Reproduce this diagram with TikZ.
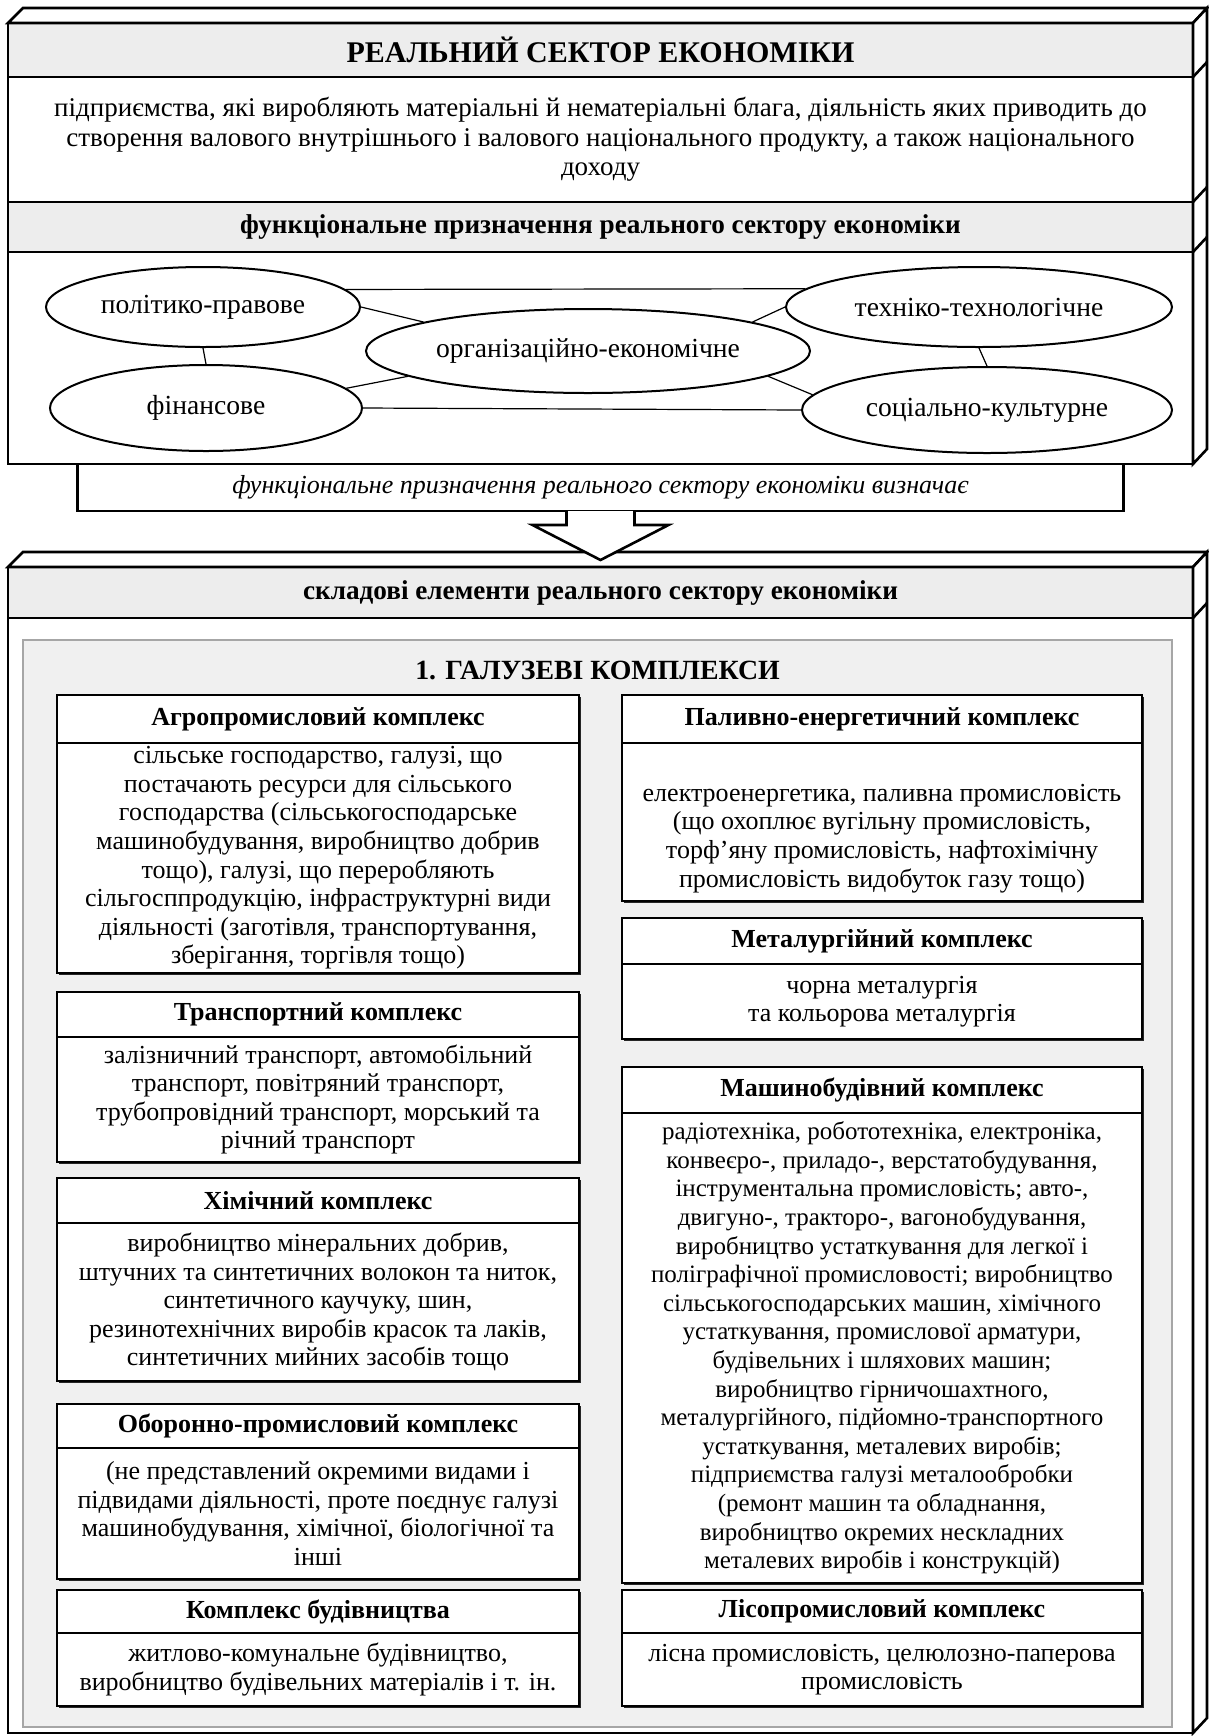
\documentclass[tikz,border=0pt]{standalone}
\usepackage{fontspec}
\setmainfont{Liberation Serif}
\usepackage{tikz}
\usetikzlibrary{positioning,shapes.geometric,shadows}

\begin{document}
\begin{tikzpicture}[x=0.5pt,y=-0.5pt,
    frameline/.style={line width=1.3pt,line join=miter},
    band/.style={draw,frameline,minimum width=592.5pt,inner sep=0pt,outer sep=0pt,align=center,
      font=\fontsize{13.5}{14.7}\selectfont},
    bandhead/.style={band,fill=black!7,font=\bfseries\fontsize{13.6}{14.7}\selectfont},
    fnell/.style={draw,ellipse,line width=1pt,fill=white,inner sep=0pt,font=\fontsize{13.8}{14.3}\selectfont},
    fnlink/.style={line width=0.6pt},
    panel/.style={draw=black!35,fill=black!6,line width=0.6pt,inner sep=0pt},
    cxhead/.style={draw,line width=1pt,fill=white,inner sep=0pt,outer sep=0pt,
      font=\bfseries\fontsize{13}{14.3}\selectfont,
      drop shadow={shadow xshift=1.2pt,shadow yshift=-1.2pt,fill=black!85,opacity=1}},
    cxbody/.style={cxhead,align=center,font=\fontsize{13}{14.3}\selectfont},
    leftcol/.style={minimum width=261pt},
    rightcol/.style={minimum width=260pt}]
  \useasboundingbox (0,0) rectangle (1209,1736);

  \node[bandhead,minimum height=27pt,font=\bfseries\fontsize{15}{16}\selectfont] (rs) at (600.5,50) {РЕАЛЬНИЙ СЕКТОР ЕКОНОМІКИ};
  \node[band,minimum height=62.5pt,below=0pt of rs] (rsdef) {підприємства, які виробляють матеріальні й нематеріальні блага, діяльність яких приводить до\\
    створення валового внутрішнього і валового національного продукту, а також національного\\
    доходу};
  \node[bandhead,minimum height=25pt,below=0pt of rsdef] (fp) {функціональне призначення реального сектору економіки};
  \node[band,minimum height=106pt,below=0pt of fp] (fparea) {};
  \draw[frameline,fill=white] (rs.north west) -- ++(15,-15) -- ([shift={(14,-15)}]rs.north east) -- (rs.north east) -- cycle;
  \draw[frameline,fill=white] (rs.north east) -- ++(14,-15) -- ([shift={(14,-15)}]fparea.south east) -- (fparea.south east) -- cycle;
  \foreach \b in {rs,rsdef,fp}
    \draw[frameline] (\b.south east) -- ++(14,-15);

  \node[fnell,minimum width=157pt,minimum height=40pt] (pp) at (203,307) {політико-правове};
  \node[fnell,minimum width=222pt,minimum height=42pt] (org) at (588,351) {організаційно-економічне};
  \node[fnell,minimum width=193pt,minimum height=40pt] (tt) at (979,307) {техніко-технологічне};
  \node[fnell,minimum width=156pt,minimum height=43pt] (fin) at (206,408) {фінансове};
  \node[fnell,minimum width=185pt,minimum height=43pt] (soc) at (987,410) {соціально-культурне};
  \draw[fnlink] (pp.7) -- (tt.174);
  \draw[fnlink] (pp.east) -- (org.170);
  \draw[fnlink] (org.10) -- (tt.west);
  \draw[fnlink] (pp.south) -- (fin.north);
  \draw[fnlink] (tt.south) -- (soc.north);
  \draw[fnlink] (fin.8) -- (org.188);
  \draw[fnlink] (org.352) -- (soc.175);
  \draw[fnlink] (fin.east) -- (soc.west);

  \node[draw,frameline,fill=white,minimum width=523pt,minimum height=23.5pt,inner sep=0pt,outer sep=0pt,
    font=\itshape\fontsize{13}{14.3}\selectfont,below=0pt of fparea] (vyzn) {функціональне призначення реального сектору економіки визначає};

  \node[bandhead,minimum height=25.5pt] (se) at (600.5,592.5) {складові елементи реального сектору економіки};
  \node[band,minimum height=557.5pt,below=0pt of se] (searea) {};
  \draw[frameline,fill=white] (se.north west) -- ++(15,-15) -- ([shift={(14,-15)}]se.north east) -- (se.north east) -- cycle;
  \draw[frameline,fill=white] (se.north east) -- ++(14,-15) -- ([shift={(14,-15)}]searea.south east) -- (searea.south east) -- cycle;
  \draw[frameline] (se.south east) -- ++(14,-15);

  \draw[frameline,fill=white] ([xshift=-17pt]vyzn.south) -- ++(0,14) -- ++(-34,0) -- ++(68,35) -- ++(68,-35) -- ++(-34,0) -- ++(0,-14);

  \node[panel,minimum width=574.5pt,minimum height=543.5pt] (panel) at (597.5,1183.5) {};
  \node[font=\bfseries\fontsize{13.9}{15}\selectfont] (galuzi) at (597.5,670) {1. ГАЛУЗЕВІ КОМПЛЕКСИ};

  \node[cxhead,leftcol,minimum height=24pt] (agroH) at (318,719) {Агропромисловий комплекс};
  \node[cxbody,leftcol,minimum height=115pt,below=0pt of agroH] (agroB) {сільське господарство, галузі, що\\
    постачають ресурси для сільського\\
    господарства (сільськогосподарське\\
    машинобудування, виробництво добрив\\
    тощо), галузі, що переробляють\\
    сільгосппродукцію, інфраструктурні види\\
    діяльності (заготівля, транспортування,\\
    зберігання, торгівля тощо)};
  \node[cxhead,leftcol,minimum height=22.5pt,below=9.5pt of agroB] (transH) {Транспортний комплекс};
  \node[cxbody,leftcol,minimum height=62.5pt,below=0pt of transH] (transB) {залізничний транспорт, автомобільний\\
    транспорт, повітряний транспорт,\\
    трубопровідний транспорт, морський та\\
    річний транспорт};
  \node[cxhead,leftcol,minimum height=22.5pt,below=8pt of transB] (chemH) {Хімічний комплекс};
  \node[cxbody,leftcol,minimum height=79pt,below=0pt of chemH] (chemB) {виробництво мінеральних добрив,\\
    штучних та синтетичних волокон та ниток,\\
    синтетичного каучуку, шин,\\
    резинотехнічних виробів красок та лаків,\\
    синтетичних мийних засобів тощо};
  \node[cxhead,leftcol,minimum height=22pt,below=11.5pt of chemB] (defH) {Оборонно-промисловий комплекс};
  \node[cxbody,leftcol,minimum height=65.5pt,below=0pt of defH] (defB) {(не представлений окремими видами і\\
    підвидами діяльності, проте поєднує галузі\\
    машинобудування, хімічної, біологічної та\\
    інші};
  \node[cxhead,leftcol,minimum height=21.5pt,below=5.5pt of defB] (buildH) {Комплекс будівництва};
  \node[cxbody,leftcol,minimum height=36.5pt,below=0pt of buildH] (buildB) {житлово-комунальне будівництво,\\
    виробництво будівельних матеріалів і т. ін.};

  \node[cxhead,rightcol,minimum height=24pt] (fuelH) at (882,719) {Паливно-енергетичний комплекс};
  \node[cxbody,rightcol,minimum height=79pt,below=0pt of fuelH] (fuelB) {\rule{0pt}{25pt}електроенергетика, паливна промисловість\\
    (що охоплює вугільну промисловість,\\
    торф’яну промисловість, нафтохімічну\\
    промисловість видобуток газу тощо)};
  \node[cxhead,rightcol,minimum height=23pt,below=8.5pt of fuelB] (metH) {Металургійний комплекс};
  \node[cxbody,rightcol,minimum height=37.5pt,below=0pt of metH] (metB) {чорна металургія\\
    та кольорова металургія};
  \node[cxhead,rightcol,minimum height=23pt,below=14pt of metB] (machH) {Машинобудівний комплекс};
  \node[cxbody,rightcol,minimum height=235pt,below=0pt of machH,font=\fontsize{12.5}{14.3}\selectfont] (machB) {радіотехніка, робототехніка, електроніка,\\
    конвеєро-, приладо-, верстатобудування,\\
    інструментальна промисловість; авто-,\\
    двигуно-, тракторо-, вагонобудування,\\
    виробництво устаткування для легкої і\\
    поліграфічної промисловості; виробництво\\
    сільськогосподарських машин, хімічного\\
    устаткування, промислової арматури,\\
    будівельних і шляхових машин;\\
    виробництво гірничошахтного,\\
    металургійного, підйомно-транспортного\\
    устаткування, металевих виробів;\\
    підприємства галузі металообробки\\
    (ремонт машин та обладнання,\\
    виробництво окремих нескладних\\
    металевих виробів і конструкцій)};
  \node[cxhead,rightcol,minimum height=21.5pt,below=3.5pt of machB] (forH) {Лісопромисловий комплекс};
  \node[cxbody,rightcol,minimum height=36.5pt,below=0pt of forH] (forB) {лісна промисловість, целюлозно-паперова\\
    промисловість};
\end{tikzpicture}
\end{document}
